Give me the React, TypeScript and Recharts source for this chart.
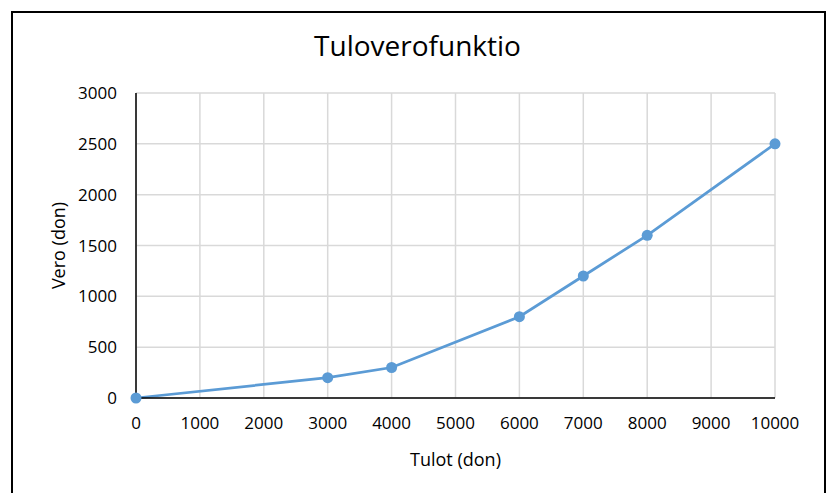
import React from "react";
import {
  LineChart,
  Line,
  XAxis,
  YAxis,
  CartesianGrid,
} from "recharts";

// income (don) on x, tax (don) on y
const tulot = [0, 3000, 4000, 6000, 7000, 8000, 10000];
const vero = [0, 200, 300, 800, 1200, 1600, 2500];
const xTicks = [0, 1000, 2000, 3000, 4000, 5000, 6000, 7000, 8000, 9000, 10000];
const yTicks = [0, 500, 1000, 1500, 2000, 2500, 3000];

const data = tulot.map((t, i) => ({ tulot: t, vero: vero[i] }));

const BLUE = "#5b9bd5";
const FONT = "'Open Sans', 'Liberation Sans', sans-serif";
const tickStyle = { fill: "#000", fontSize: 17, fontFamily: FONT };

function YLabel(props: any) {
  const vb = props.viewBox || {};
  const x = vb.x + 46;
  const y = vb.y + vb.height / 2;
  return (
    <text
      x={x}
      y={y}
      transform={`rotate(-90, ${x}, ${y})`}
      textAnchor="middle"
      dominantBaseline="central"
      style={{ fontSize: 18, fontFamily: FONT, fill: "#000" }}
    >
      Vero (don)
    </text>
  );
}

export default function App() {
  return (
    <div
      style={{
        position: "absolute",
        left: 0,
        top: 0,
        width: 827,
        height: 493,
        background: "#fff",
        overflow: "hidden",
      }}
    >
      {/* chart frame, bottom edge is off the picture */}
      <div
        style={{
          position: "absolute",
          left: 11,
          top: 11,
          width: 811,
          height: 520,
          border: "2px solid #000",
        }}
      />
      <div
        style={{
          position: "absolute",
          left: 12,
          width: 811,
          top: 26,
          textAlign: "center",
          fontFamily: FONT,
          fontSize: 28,
          color: "#000",
        }}
      >
        Tuloverofunktio
      </div>
      <div style={{ position: "absolute", left: 0, top: 0 }}>
        <LineChart
          width={827}
          height={493}
          data={data}
          margin={{ top: 93, right: 52, bottom: 15, left: 12 }}
        >
          <CartesianGrid stroke="#d9d9d9" strokeWidth={1.5} />
          <XAxis
            dataKey="tulot"
            type="number"
            domain={[0, 10000]}
            ticks={xTicks}
            interval={0}
            height={80}
            tickLine={false}
            tickSize={0}
            tickMargin={19}
            axisLine={{ stroke: "#000", strokeWidth: 1.5 }}
            tick={tickStyle}
            label={{
              value: "Tulot (don)",
              position: "insideBottom",
              offset: 12,
              style: { fontSize: 18, fontFamily: FONT, fill: "#000" },
            }}
          />
          <YAxis
            type="number"
            domain={[0, 3000]}
            ticks={yTicks}
            interval={0}
            width={124}
            tickLine={false}
            tickSize={0}
            tickMargin={19}
            axisLine={{ stroke: "#000", strokeWidth: 1.5 }}
            tick={tickStyle}
            label={{ content: YLabel }}
          />
          <Line
            type="linear"
            dataKey="vero"
            stroke={BLUE}
            strokeWidth={2.75}
            dot={{ r: 5.5, fill: BLUE, stroke: BLUE, strokeWidth: 0 }}
            isAnimationActive={false}
          />
        </LineChart>
      </div>
    </div>
  );
}
